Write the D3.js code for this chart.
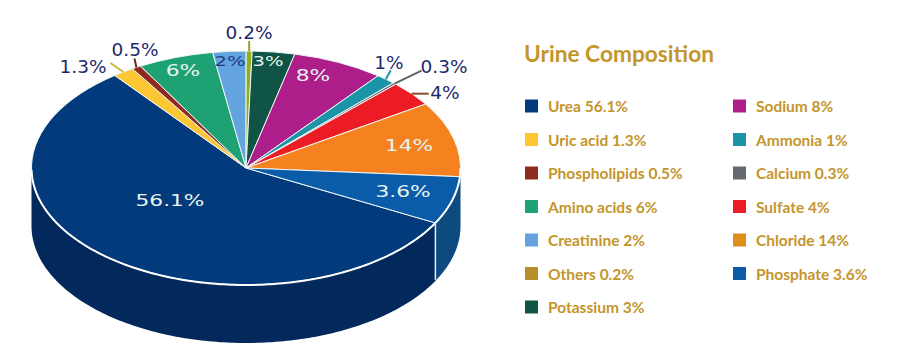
<!DOCTYPE html>
<html>
<head>
<meta charset="utf-8">
<script src="https://cdn.jsdelivr.net/npm/d3@7"></script>
<style>
  html, body { margin: 0; padding: 0; background: #fff; }
  svg { display: block; }
</style>
</head>
<body>
<div id="chart"></div>
<script>
// Urine composition: tilted 3D pie with a two column legend

const names = ["Urea", "Uric acid", "Phospholipids", "Amino acids", "Creatinine", "Others",
  "Potassium", "Sodium", "Ammonia", "Calcium", "Sulfate", "Chloride", "Phosphate"];
const labels = ["56.1%", "1.3%", "0.5%", "6%", "2%", "0.2%", "3%", "8%", "1%", "0.3%", "4%", "14%", "3.6%"];
// the slices in the picture are not quite to scale with their printed labels,
// so these are the shares as measured from the drawn slices
const drawnShares = [56.8, 1.6, 0.7, 5.7, 2.5, 0.45, 3.2, 6.9, 1.5, 0.25, 3.5, 10.4, 6.6];
const colors = ["#033a7b", "#fdc633", "#8f2a1e", "#1ea173", "#63a3de", "#8fae22",
  "#0f5444", "#ad1e8b", "#1b94a8", "#666a70", "#ec1c24", "#f5821f", "#0b5ca8"];
const legendColors = ["#033a7b", "#fdc633", "#8f2a1e", "#1ea173", "#63a3de", "#b5902a",
  "#0f5444", "#ad1e8b", "#1b94a8", "#666a70", "#ec1c24", "#e08e1e", "#0b5ca8"];

// label offsets from the pie centre, px
const labelOffsets = [[-76, 33], [-163, -102], [-111, -119], [-63, -97], [-16, -107], [3, -136],
  [22, -107], [67, -92], [143, -106], [198, -102], [199, -76], [163, -22], [157, 24]];
// leader line end, relative to the rim point of the slice (only small slices have one)
const leaders = {1: [-13, -9], 2: [-2, -9], 5: [0, -10], 8: [5, -9], 9: [27, -13], 10: [17, 0]};
const leaderColors = {1: "#c9b93c", 2: "#6b2a1c", 5: "#9aa02a", 8: "#1b94a8", 9: "#5f6368", 10: "#8a4a2a"};
const insideColors = {4: "#1c3c86"};

const width = 900, height = 360;
const cx = 246, cy = 168, rx = 214.5, ry = 117, depth = 58;
const deg = Math.PI / 180;
const startAngle = 118 * deg;

const svg = d3.select("#chart").append("svg")
  .attr("width", width)
  .attr("height", height)
  .attr("viewBox", `0 0 ${width} ${height}`);

const slices = d3.pie().sort(null)
  .startAngle(startAngle)
  .endAngle(startAngle + 2 * Math.PI)(drawnShares);

// point on the ellipse for a pie angle (0 = north, clockwise)
function rim(a, dy = 0) {
  const p = d3.pointRadial(a, rx);
  return [cx + p[0], cy + p[1] * ry / rx + dy];
}

const rimLine = d3.line();

function wallPath(a0, a1) {
  const angles = d3.range(a0, a1, 1 * deg).concat(a1);
  const top = angles.map(a => rim(a));
  const bottom = angles.slice().reverse().map(a => rim(a, depth));
  return rimLine(top.concat(bottom)) + "Z";
}

const chart = svg.append("g");

// Side wall: only the front half of the pie shows
chart.append("path")
  .attr("d", wallPath(90 * deg, startAngle))
  .attr("fill", "#0c4a80");
chart.append("path")
  .attr("d", wallPath(startAngle, 270 * deg))
  .attr("fill", "#03295c");

// Top face, a circle squashed into an ellipse
const arc = d3.arc().innerRadius(0).outerRadius(rx);
chart.append("g")
  .attr("transform", `translate(${cx},${cy}) scale(1,${ry / rx})`)
  .selectAll("path")
  .data(slices)
  .join("path")
  .attr("d", arc)
  .attr("fill", (d, i) => colors[i])
  .attr("stroke", "#eef6f6")
  .attr("stroke-width", 1)
  .attr("vector-effect", "non-scaling-stroke");

// White rim along the front edge and the seam between the two walls
chart.append("path")
  .attr("d", rimLine(d3.range(90 * deg, 270 * deg, 1 * deg).map(a => rim(a))))
  .attr("fill", "none")
  .attr("stroke", "#fff")
  .attr("stroke-width", 2);
chart.append("path")
  .attr("d", rimLine([rim(startAngle), rim(startAngle, depth - 1)]))
  .attr("stroke", "#dff0f2")
  .attr("stroke-width", 1.5);

// Leader lines for the outside labels
slices.forEach((d, i) => {
  if (!leaders[i]) return;
  const start = rim((d.startAngle + d.endAngle) / 2);
  chart.append("line")
    .attr("x1", start[0])
    .attr("y1", start[1])
    .attr("x2", start[0] + leaders[i][0])
    .attr("y2", start[1] + leaders[i][1])
    .attr("stroke", leaderColors[i])
    .attr("stroke-width", 2);
});

// Percentage labels: the inside ones look stretched because they lie on the tilted face
chart.append("g")
  .attr("font-family", "'DejaVu Sans', Verdana, sans-serif")
  .selectAll("text")
  .data(labels)
  .join("text")
  .attr("text-anchor", "middle")
  .attr("dominant-baseline", "central")
  .attr("transform", (d, i) => {
    const t = `translate(${cx + labelOffsets[i][0]},${cy + labelOffsets[i][1]})`;
    return leaders[i] ? t : t + " scale(1.45,1)";
  })
  .attr("font-size", (d, i) => leaders[i] ? 18.5 : (i === 4 || i === 6 ? 13.5 : 15))
  .attr("fill", (d, i) => leaders[i] ? "#1d2a6c" : (insideColors[i] || "#e6f4ee"))
  .text(d => d);

// Title and legend
const legendFont = "Lato, 'Open Sans', sans-serif";
const gold = "#c4952b";

svg.append("text")
  .attr("x", 524)
  .attr("y", 62)
  .attr("font-family", legendFont)
  .attr("font-size", 22.7)
  .attr("font-weight", 700)
  .attr("fill", gold)
  .text("Urine Composition");

const rows = d3.scalePoint().domain(d3.range(7)).range([106, 307]);
const columns = [525, 733];
const perColumn = 7;

const legend = svg.append("g")
  .selectAll("g")
  .data(names)
  .join("g")
  .attr("transform", (d, i) => `translate(${columns[i < perColumn ? 0 : 1]},${rows(i % perColumn)})`);

legend.append("rect")
  .attr("y", -6.5)
  .attr("width", 13)
  .attr("height", 13)
  .attr("fill", (d, i) => legendColors[i]);

legend.append("text")
  .attr("x", 23)
  .attr("dominant-baseline", "central")
  .attr("font-family", legendFont)
  .attr("font-size", 15.5)
  .attr("font-weight", 700)
  .attr("fill", gold)
  .text((d, i) => `${d} ${labels[i]}`);
</script>
</body>
</html>
